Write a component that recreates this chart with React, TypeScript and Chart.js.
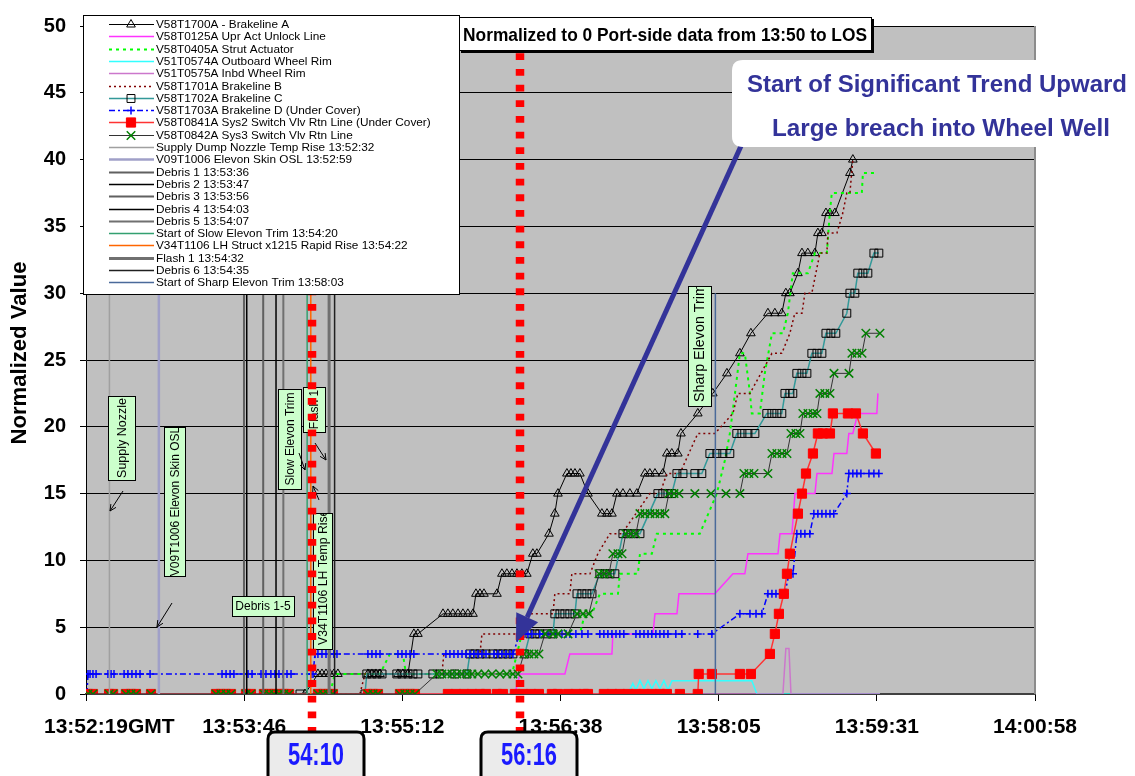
import React, { useEffect, useRef } from 'react';
import { Chart, registerables } from 'chart.js';

Chart.register(...registerables);

type Pt = [number, number];

const FONT = '"Liberation Sans", Arial, Helvetica, sans-serif';

// ---------- axes (x = seconds after 13:50:00 GMT, y = normalized value) ----------
const X_MIN = 139.2;
const X_MAX = 657.6;
const X_TICKS = [139.2, 225.6, 312, 398.4, 484.8, 571.2, 657.6];
const X_TICK_LABELS = ['13:52:19GMT', '13:53:46', '13:55:12', '13:56:38', '13:58:05', '13:59:31', '14:00:58'];
const Y_TICKS = [0, 5, 10, 15, 20, 25, 30, 35, 40, 45, 50];
const Y_TITLE = 'Normalized Value';

// ---------- sensor series ----------
const brakelineA: Pt[] = [[258.8,0],[265.9,1.5],[268.1,1.5],[270.3,1.5],[272.4,1.5],[274.6,1.5],[276.8,1.5],[293.2,1.5],[295.4,1.5],[297.6,1.5],[299.8,1.5],[309.6,1.5],[312.3,1.5],[315.1,1.5],[318.3,4.5],[320.5,4.5],[334.2,6],[336.9,6],[339.6,6],[342.4,6],[345.1,6],[347.8,6],[350.6,6],[352.2,7.5],[354.4,7.5],[356.6,7.5],[363.7,7.5],[366.4,9],[369.1,9],[371.9,9],[374.6,9],[377.3,9],[380.0,9],[383.3,10.5],[385.5,10.5],[392.1,12],[395.3,13.5],[397.0,15],[401.9,16.5],[404.1,16.5],[406.3,16.5],[409.0,16.5],[413.4,15],[421.0,13.5],[423.8,13.5],[426.5,13.5],[429.2,15],[432.5,15],[436.3,15],[440.1,15],[444.5,16.5],[447.2,16.5],[450.0,16.5],[454.3,16.5],[456.5,18],[459.2,18],[462.5,18],[464.2,19.5],[473.4,21],[481.6,22.5],[489.3,24],[496.4,25.5],[502.4,27],[511.7,28.5],[515.5,28.5],[519.3,28.5],[521.5,30],[523.7,30],[528.1,31.5],[530.3,33],[533.5,33],[537.4,33],[539.0,34.5],[541.2,34.5],[543.4,36],[545.5,36],[548.3,36],[556.5,39],[558.1,40]];

const uprActUnlock: Pt[] = [[139.2,0],[373.5,0],[376.2,1.5],[400.8,1.5],[403.5,3],[426.5,3],[427.0,4.5],[448.9,4.5],[450.0,6],[462.0,6],[463.1,7.5],[482.7,7.5],[492.6,9],[499.1,9],[500.8,10.5],[517.2,10.5],[518.3,12],[524.8,12],[526.5,15],[537.4,15],[538.5,16.5],[546.7,16.5],[547.8,18],[554.8,18],[555.9,19.5],[558.1,19.5],[560.8,21],[571.2,21],[571.8,22.5]];

const strutActuator: Pt[] = [[139.2,0],[272.4,0],[275.2,1.5],[299.8,1.5],[305.2,3],[312.3,3],[314.0,1.5],[371.9,1.5],[377.3,4.5],[409.0,4.5],[411.7,6],[415.6,6],[419.9,7.5],[429.8,7.5],[430.8,9],[440.7,9],[441.8,10.5],[448.3,10.5],[451.0,12],[474.5,12],[483.8,15],[488.2,17.5],[490.9,19.5],[493.7,22.5],[496.4,25.5],[499.1,25.5],[501.9,22.5],[502.9,21],[507.3,21],[510.0,24],[513.9,27],[519.9,27],[522.6,28.5],[525.3,31.5],[533.5,31.5],[537.4,33],[543.9,33],[545.5,36],[546.6,37.5],[563.0,37.5],[563.6,39],[571.2,39]];

const outboardRim: Pt[] = [[139.2,0],[435.2,0],[437.9,0.8],[439.6,0.3],[441.8,1],[444.0,0.4],[446.2,1],[448.3,0.4],[450.5,1],[452.7,0.4],[454.9,1],[457.1,0.3],[459.3,1],[502.9,1],[505.7,0],[572.9,0]];

const inbdRim: Pt[] = [[139.2,0],[519.9,0],[521.5,3.4],[523.2,3.4],[524.3,0],[572.9,0]];

const brakelineB: Pt[] = [[256.1,0],[288.8,0],[291.6,1.5],[333.6,1.5],[334.7,3],[354.4,3],[355.5,4.5],[371.9,4.5],[376.2,4.5],[381.7,6],[394.3,6],[395.3,7.5],[403.5,7.5],[404.6,9],[414.5,9],[418.8,10.5],[425.4,12],[431.9,12],[439.6,13.5],[447.2,15],[452.7,15],[456.5,16.5],[463.6,16.5],[473.4,19.5],[482.7,19.5],[492.6,21],[495.3,22.5],[501.9,22.5],[513.9,25.5],[519.3,25.5],[523.7,27],[526.4,28.5],[530.3,28.5],[531.9,30],[535.7,30],[540.1,33],[543.9,33],[544.5,34.5],[549.4,34.5],[552.6,36],[554.8,37.5],[556.5,37.5],[558.1,40]];

const brakelineC: Pt[] = [[256.1,0],[291.6,0],[292.6,1.5],[295.4,1.5],[298.1,1.5],[300.9,1.5],[309.0,1.5],[311.8,1.5],[315.1,1.5],[317.8,1.5],[320.5,1.5],[328.7,1.5],[332.5,1.5],[340.7,1.5],[347.3,1.5],[348.9,3],[351.6,3],[354.4,3],[357.7,3],[361.5,3],[364.2,3],[366.9,3],[369.7,3],[372.4,3],[378.9,3],[381.7,4.5],[384.4,4.5],[387.1,4.5],[391.0,4.5],[394.3,4.5],[395.3,6],[398.1,6],[400.8,6],[403.5,6],[406.3,6],[407.4,7.5],[410.1,7.5],[412.8,7.5],[415.6,7.5],[419.9,9],[422.7,9],[425.4,9],[428.1,9],[432.5,12],[435.2,12],[438.5,12],[441.8,12],[451.6,15],[454.3,15],[457.1,15],[459.2,15],[462.0,16.5],[465.3,16.5],[471.8,16.5],[475.6,16.5],[480.0,18],[483.8,18],[487.1,18],[490.9,18],[494.7,19.5],[497.5,19.5],[500.8,19.5],[504.6,19.5],[511.1,21],[513.9,21],[516.6,21],[519.3,21],[521.0,22.5],[523.7,22.5],[525.3,22.5],[527.5,24],[530.3,24],[533.0,24],[535.7,25.5],[538.5,25.5],[541.2,25.5],[543.4,27],[546.1,27],[548.8,27],[554.8,28.5],[556.5,30],[559.2,30],[560.8,31.5],[563.6,31.5],[566.3,31.5],[569.6,33],[572.3,33]];

const brakelineD: Pt[] = [[139.7,0],[140.3,1.5],[141.4,1.5],[143.0,1.5],[144.7,1.5],[151.2,1.5],[152.9,1.5],[154.5,1.5],[160.0,1.5],[162.1,1.5],[164.3,1.5],[166.5,1.5],[168.7,1.5],[174.2,1.5],[213.5,1.5],[215.7,1.5],[217.9,1.5],[220.0,1.5],[225.5,1.5],[227.7,1.5],[229.9,1.5],[234.8,1.5],[237.5,1.5],[240.2,1.5],[242.4,1.5],[244.6,1.5],[246.8,1.5],[249.0,1.5],[251.2,1.5],[262.1,1.5],[263.2,1.5],[264.3,3],[265.9,3],[268.1,3],[270.3,3],[272.4,3],[274.6,3],[276.3,3],[293.2,3],[295.4,3],[297.6,3],[299.8,3],[309.6,3],[311.8,3],[314.0,3],[316.2,3],[318.3,3],[335.8,3],[338.0,3],[340.2,3],[342.4,3],[344.6,3],[346.8,3],[348.9,3],[351.1,3],[353.3,3],[355.5,3],[357.7,3],[362.1,3],[364.2,3],[366.4,3],[368.6,3],[370.8,3],[372.4,3],[376.2,4.5],[378.4,4.5],[380.6,4.5],[382.8,4.5],[387.1,4.5],[391.5,4.5],[395.9,4.5],[399.2,4.5],[401.4,4.5],[403.5,4.5],[406.8,4.5],[410.1,4.5],[413.4,4.5],[419.9,4.5],[422.1,4.5],[424.3,4.5],[426.5,4.5],[428.7,4.5],[430.8,4.5],[433.0,4.5],[439.6,4.5],[441.8,4.5],[444.0,4.5],[446.2,4.5],[448.3,4.5],[450.5,4.5],[452.7,4.5],[454.9,4.5],[457.1,4.5],[461.4,4.5],[464.7,4.5],[473.4,4.5],[481.1,4.5],[496.4,6],[501.9,6],[505.2,6],[508.4,6],[511.7,7.5],[513.9,7.5],[516.1,7.5],[518.3,7.5],[521.0,7.5],[523.2,9],[525.4,9],[527.5,12],[529.7,12],[531.9,12],[534.6,12],[536.8,13.5],[539.0,13.5],[541.2,13.5],[543.4,13.5],[545.6,13.5],[547.7,13.5],[554.8,15],[555.9,16.5],[558.1,16.5],[560.3,16.5],[562.5,16.5],[566.9,16.5],[569.6,16.5],[572.3,16.5]];

const sys2Return: Pt[] = [[140.3,0],[143.0,0],[151.8,0],[154.0,0],[161.0,0],[163.8,0],[166.5,0],[174.7,0],[210.2,0],[212.9,0],[215.7,0],[218.4,0],[226.6,0],[229.3,0],[236.4,0],[239.2,0],[241.9,0],[244.6,0],[247.3,0],[250.1,0],[265.9,0],[268.7,0],[271.4,0],[274.1,0],[293.2,0],[296.0,0],[298.7,0],[310.7,0],[313.4,0],[316.2,0],[318.9,0],[336.9,0],[341.3,0],[345.7,0],[350.0,0],[354.4,0],[357.7,0],[363.7,0],[366.9,0],[373.5,0],[377.9,0],[382.3,0],[386.6,0],[393.7,0],[397.0,0],[402.5,0],[406.8,0],[411.2,0],[413.4,0],[422.1,0],[426.5,0],[430.8,0],[435.2,0],[439.6,0],[444.0,0],[448.3,0],[452.7,0],[456.5,0],[463.6,0],[473.4,0],[473.9,1.5],[481.1,1.5],[496.4,1.5],[502.4,1.5],[512.8,3],[515.5,4.5],[517.7,6],[520.4,7.5],[522.1,9],[523.7,10.5],[528.1,13.5],[530.3,15],[532.5,16.5],[536.3,18],[539.0,19.5],[541.7,19.5],[545.6,19.5],[547.2,21],[555.4,21],[559.8,21],[563.6,19.5],[570.7,18]];

const sys3Return: Pt[] = [[140.3,0],[143.0,0],[151.8,0],[154.0,0],[161.0,0],[163.8,0],[166.5,0],[174.7,0],[210.2,0],[212.9,0],[215.7,0],[218.4,0],[226.6,0],[229.3,0],[236.4,0],[239.2,0],[241.9,0],[244.6,0],[247.3,0],[250.1,0],[265.9,0],[268.7,0],[271.4,0],[274.1,0],[293.2,0],[296.0,0],[298.7,0],[310.7,0],[313.4,0],[316.2,0],[318.9,0],[330.9,1.5],[333.6,1.5],[336.4,1.5],[339.1,1.5],[341.8,1.5],[344.6,1.5],[347.3,1.5],[350.0,1.5],[353.3,1.5],[357.1,1.5],[361.0,1.5],[365.3,1.5],[369.1,1.5],[372.4,1.5],[375.2,1.5],[378.4,3],[381.2,3],[383.9,3],[386.6,3],[389.9,4.5],[394.3,4.5],[397.0,4.5],[402.5,4.5],[407.4,6],[410.7,6],[413.9,6],[419.4,9],[422.1,9],[424.9,9],[427.0,10.5],[429.8,10.5],[432.0,10.5],[434.1,12],[436.9,12],[439.6,12],[441.8,13.5],[444.5,13.5],[447.3,13.5],[450.0,13.5],[452.7,13.5],[455.4,13.5],[457.6,15],[460.4,15],[463.1,15],[471.8,15],[480.6,15],[488.8,15],[496.4,15],[498.6,16.5],[501.3,16.5],[504.1,16.5],[511.7,16.5],[513.9,18],[516.6,18],[519.4,18],[522.1,18],[524.3,19.5],[527.0,19.5],[529.2,19.5],[530.8,21],[533.6,21],[536.3,21],[538.5,21],[540.1,22.5],[542.8,22.5],[545.6,22.5],[547.8,24],[556.0,24],[557.6,25.5],[560.3,25.5],[563.1,25.5],[565.2,27],[572.9,27]];

// ---------- event markers (vertical lines) ----------
const EVENT_LABELS = ['Supply Dump Nozzle Temp Rise 13:52:32', 'V09T1006 Elevon Skin OSL 13:52:59', 'Debris 1 13:53:36', 'Debris 2 13:53:47', 'Debris 3 13:53:56', 'Debris 4 13:54:03', 'Debris 5 13:54:07', 'Start of Slow Elevon Trim 13:54:20', 'V34T1106 LH Struct x1215 Rapid Rise 13:54:22', 'Flash 1 13:54:32', 'Debris 6 13:54:35', 'Start of Sharp Elevon Trim 13:58:03'];
const EVENT_TIMES = [152, 179, 225.5, 227, 236, 243, 247, 260, 262, 272, 275, 483];
const EVENT_HEIGHT = 30;

const MARK_TIMES = [262.6, 376.3];
const MARK_LABELS = ['54:10', '56:16'];
const TITLE_TEXT = 'Normalized to 0 Port-side data from 13:50 to LOS';
const CALLOUT_LINES = ['Start of Significant Trend Upward', 'Large breach into Wheel Well'];
const TREND_START: Pt = [374.1, 3.9];

// ---------- styles ----------
type Marker = 'triangle' | 'rect' | 'cross' | 'crossRot' | undefined;
interface Sty { label: string; data: Pt[]; color: string; width: number; dash?: number[]; marker?: Marker; r?: number; fill?: string; stroke?: string; mw?: number; }

const SENSOR_SERIES: Sty[] = [
  { label: 'V58T1700A - Brakeline A', data: brakelineA, color: '#000000', width: 1, marker: 'triangle', r: 5, fill: 'rgba(0,0,0,0)', stroke: '#000000', mw: 1 },
  { label: 'V58T0125A Upr Act Unlock Line', data: uprActUnlock, color: '#ff33ff', width: 1.5 },
  { label: 'V58T0405A Strut Actuator', data: strutActuator, color: '#00ff00', width: 2, dash: [3, 4] },
  { label: 'V51T0574A Outboard Wheel Rim', data: outboardRim, color: '#33ffff', width: 1.5 },
  { label: 'V51T0575A Inbd Wheel Rim', data: inbdRim, color: '#cc77cc', width: 1.5 },
  { label: 'V58T1701A Brakeline B', data: brakelineB, color: '#800000', width: 1.5, dash: [2, 3] },
  { label: 'V58T1702A Brakeline C', data: brakelineC, color: '#339999', width: 1.5, marker: 'rect', r: 5.6, fill: 'rgba(0,0,0,0)', stroke: '#000000', mw: 1 },
  { label: 'V58T1703A Brakeline D (Under Cover)', data: brakelineD, color: '#0000ff', width: 1.5, dash: [6, 3, 2, 3], marker: 'cross', r: 4, fill: '#0000ff', stroke: '#0000ff', mw: 1.5 },
  { label: 'V58T0841A Sys2 Switch Vlv Rtn Line (Under Cover)', data: sys2Return, color: '#ff3333', width: 1.5, marker: 'rect', r: 6.5, fill: '#ff0000', stroke: '#ff0000', mw: 1 },
  { label: 'V58T0842A Sys3 Switch Vlv Rtn Line', data: sys3Return, color: '#333333', width: 1, marker: 'crossRot', r: 6, fill: '#008000', stroke: '#008000', mw: 1.5 },
];

const EVENT_COLORS = ['#a0a0a0', '#a0a0c8', '#606060', '#000000', '#606060', '#000000', '#707070', '#33a070', '#ff6600', '#707070', '#202020', '#4a6a9a'];
const EVENT_WIDTHS = [1.5, 2.5, 2, 1.5, 2, 1.5, 2, 1.5, 1.5, 3, 1.5, 1.5];

const ALL_SERIES: Sty[] = [
  ...SENSOR_SERIES,
  ...EVENT_LABELS.map((label, i) => ({ label, data: [[EVENT_TIMES[i], 0], [EVENT_TIMES[i], EVENT_HEIGHT]] as Pt[], color: EVENT_COLORS[i], width: EVENT_WIDTHS[i] })),
];

// ---------- drawing helpers ----------
function fitText(ctx: CanvasRenderingContext2D, text: string, x: number, y: number, font: string, color: string, width?: number, align: CanvasTextAlign = 'center') {
  ctx.save();
  ctx.font = font;
  ctx.fillStyle = color;
  ctx.textBaseline = 'alphabetic';
  const w = ctx.measureText(text).width;
  const sx = width ? width / w : 1;
  ctx.translate(x, y);
  ctx.scale(sx, 1);
  ctx.textAlign = align;
  ctx.fillText(text, 0, 0);
  ctx.restore();
}

function rr(ctx: CanvasRenderingContext2D, x: number, y: number, w: number, h: number, r: number) {
  ctx.beginPath();
  ctx.moveTo(x + r, y);
  ctx.lineTo(x + w - r, y);
  ctx.quadraticCurveTo(x + w, y, x + w, y + r);
  ctx.lineTo(x + w, y + h - r);
  ctx.quadraticCurveTo(x + w, y + h, x + w - r, y + h);
  ctx.lineTo(x + r, y + h);
  ctx.quadraticCurveTo(x, y + h, x, y + h - r);
  ctx.lineTo(x, y + r);
  ctx.quadraticCurveTo(x, y, x + r, y);
  ctx.closePath();
}

function drawMarker(ctx: CanvasRenderingContext2D, s: Sty, x: number, y: number) {
  if (!s.marker) return;
  const r = s.r || 4;
  ctx.save();
  ctx.setLineDash([]);
  ctx.lineWidth = s.mw || 1;
  ctx.strokeStyle = s.stroke || s.color;
  ctx.fillStyle = s.fill || s.color;
  ctx.beginPath();
  if (s.marker === 'triangle') {
    ctx.moveTo(x, y - r);
    ctx.lineTo(x + r * 0.866, y + r / 2);
    ctx.lineTo(x - r * 0.866, y + r / 2);
    ctx.closePath();
    ctx.fill();
    ctx.stroke();
  } else if (s.marker === 'rect') {
    const h = r * Math.SQRT1_2;
    ctx.rect(x - h, y - h, 2 * h, 2 * h);
    ctx.fill();
    ctx.stroke();
  } else if (s.marker === 'cross') {
    ctx.moveTo(x - r, y); ctx.lineTo(x + r, y);
    ctx.moveTo(x, y - r); ctx.lineTo(x, y + r);
    ctx.stroke();
  } else {
    const d = r * Math.SQRT1_2;
    ctx.moveTo(x - d, y - d); ctx.lineTo(x + d, y + d);
    ctx.moveTo(x + d, y - d); ctx.lineTo(x - d, y + d);
    ctx.stroke();
  }
  ctx.restore();
}

function thinArrow(ctx: CanvasRenderingContext2D, x1: number, y1: number, x2: number, y2: number) {
  const a = Math.atan2(y2 - y1, x2 - x1);
  const h = 7;
  ctx.save();
  ctx.strokeStyle = '#000';
  ctx.lineWidth = 1;
  ctx.beginPath();
  ctx.moveTo(x1, y1); ctx.lineTo(x2, y2);
  ctx.moveTo(x2 - h * Math.cos(a - 0.45), y2 - h * Math.sin(a - 0.45));
  ctx.lineTo(x2, y2);
  ctx.lineTo(x2 - h * Math.cos(a + 0.45), y2 - h * Math.sin(a + 0.45));
  ctx.stroke();
  ctx.restore();
}

// text boxes on the plot
const NOTE_BOXES = [
  { text: 'Supply Nozzle', x: 108, y: 396, w: 27, h: 84, rot: true, size: 12.5, start: false },
  { text: 'V09T1006 Elevon Skin OSL', x: 164, y: 427, w: 21, h: 149, rot: true, size: 12, start: false },
  { text: 'Debris 1-5', x: 232, y: 596, w: 62, h: 20, rot: false, size: 12, start: false },
  { text: 'Slow Elevon Trim', x: 278, y: 389, w: 23, h: 100, rot: true, size: 12, start: false },
  { text: 'Flash 1', x: 303, y: 387, w: 22, h: 45, rot: true, size: 12, start: false },
  { text: 'V34T1106 LH Temp Rise', x: 313, y: 513, w: 19, h: 136, rot: true, size: 12.2, start: true },
  { text: 'Sharp Elevon Trim', x: 688, y: 286, w: 23, h: 120, rot: true, size: 14.3, start: true },
];
const NOTE_ARROWS = [[123, 491, 110, 511], [172, 603, 157, 627], [299, 453, 305, 470], [315, 443, 326, 460], [319, 500, 313, 486]];

const decorPlugin = {
  id: 'decor',
  beforeDraw(chart: any) {
    const { ctx, chartArea: a } = chart;
    ctx.save();
    ctx.fillStyle = '#ffffff';
    ctx.fillRect(0, 0, chart.width, chart.height);
    ctx.fillStyle = '#c0c0c0';
    ctx.fillRect(a.left, a.top, a.right - a.left, a.bottom - a.top);
    ctx.restore();
  },
  afterDraw(chart: any) {
    const ctx: CanvasRenderingContext2D = chart.ctx;
    const a = chart.chartArea;
    const xs = chart.scales.x;
    const ys = chart.scales.y;

    // right plot border
    ctx.save();
    ctx.strokeStyle = '#8c8c8c';
    ctx.lineWidth = 2;
    ctx.beginPath(); ctx.moveTo(a.right, a.top); ctx.lineTo(a.right, a.bottom); ctx.stroke();
    ctx.restore();

    // annotation boxes
    NOTE_BOXES.forEach((b) => {
      ctx.save();
      ctx.fillStyle = '#ccffcc';
      ctx.strokeStyle = '#000';
      ctx.lineWidth = 1;
      ctx.fillRect(b.x, b.y, b.w, b.h);
      ctx.strokeRect(b.x + 0.5, b.y + 0.5, b.w, b.h);
      ctx.beginPath(); ctx.rect(b.x + 1, b.y + 1, b.w - 1, b.h - 1); ctx.clip();
      ctx.fillStyle = '#000';
      ctx.font = `${b.size}px ${FONT}`;
      ctx.textBaseline = 'middle';
      if (b.rot) {
        ctx.translate(b.x + b.w / 2 + 1, b.start ? b.y + b.h - 4 : b.y + b.h / 2);
        ctx.rotate(-Math.PI / 2);
        ctx.textAlign = b.start ? 'left' : 'center';
        ctx.fillText(b.text, 0, 0);
      } else {
        ctx.textAlign = 'center';
        ctx.fillText(b.text, b.x + b.w / 2, b.y + b.h / 2 + 1);
      }
      ctx.restore();
    });
    NOTE_ARROWS.forEach(([x1, y1, x2, y2]) => thinArrow(ctx, x1, y1, x2, y2));

    // red dotted reference lines
    const markBottoms = [731, 733];
    MARK_TIMES.forEach((t, i) => {
      const x = Math.round(xs.getPixelForValue(t));
      ctx.save();
      ctx.strokeStyle = '#ff0000';
      ctx.lineWidth = 8.5;
      ctx.setLineDash([6.8, 8.87]);
      ctx.beginPath(); ctx.moveTo(x, 53.3); ctx.lineTo(x, markBottoms[i]); ctx.stroke();
      ctx.restore();
    });

    // legend
    const L = { x: 83, y: 15, w: 376, h: 279, x0: 109, x1: 154, mx: 131, tx: 156, row0: 24, rowH: 12.3 };
    ctx.save();
    ctx.fillStyle = '#ffffff';
    ctx.fillRect(L.x, L.y, L.w, L.h);
    ctx.strokeStyle = '#000';
    ctx.lineWidth = 1;
    ctx.strokeRect(L.x + 0.5, L.y + 0.5, L.w, L.h);
    ALL_SERIES.forEach((s, i) => {
      const y = Math.round(L.row0 + i * L.rowH) + 0.5;
      ctx.save();
      ctx.strokeStyle = s.color;
      ctx.lineWidth = s.width;
      ctx.setLineDash(s.dash || []);
      ctx.beginPath(); ctx.moveTo(L.x0, y); ctx.lineTo(L.x1, y); ctx.stroke();
      ctx.restore();
      drawMarker(ctx, s, L.mx, y);
      ctx.fillStyle = '#000';
      ctx.font = `11.8px ${FONT}`;
      ctx.textAlign = 'left';
      ctx.textBaseline = 'middle';
      ctx.fillText(s.label, L.tx, y);
    });
    ctx.restore();

    // title box
    ctx.save();
    ctx.fillStyle = '#000';
    ctx.fillRect(461, 19, 413, 34);
    ctx.fillStyle = '#fff';
    ctx.fillRect(459, 17, 413, 34);
    ctx.strokeStyle = '#000';
    ctx.lineWidth = 1;
    ctx.strokeRect(459.5, 17.5, 412, 33);
    ctx.restore();
    fitText(ctx, TITLE_TEXT, 665, 41, `bold 18.5px ${FONT}`, '#000', 404);

    // big arrow to start of trend
    const tipX = xs.getPixelForValue(TREND_START[0]);
    const tipY = ys.getPixelForValue(TREND_START[1]);
    const tailX = 741, tailY = 146;
    const ang = Math.atan2(tipY - tailY, tipX - tailX);
    const hl = 27, hw = 12;
    const bx = tipX - hl * Math.cos(ang), by = tipY - hl * Math.sin(ang);
    ctx.save();
    ctx.strokeStyle = '#333399';
    ctx.fillStyle = '#333399';
    ctx.lineWidth = 5;
    ctx.beginPath(); ctx.moveTo(tailX, tailY); ctx.lineTo(bx, by); ctx.stroke();
    ctx.beginPath();
    ctx.moveTo(tipX, tipY);
    ctx.lineTo(bx + hw * Math.sin(ang), by - hw * Math.cos(ang));
    ctx.lineTo(bx - hw * Math.sin(ang), by + hw * Math.cos(ang));
    ctx.closePath();
    ctx.fill();
    ctx.restore();

    // callout
    ctx.save();
    ctx.fillStyle = '#ffffff';
    rr(ctx, 732, 60, 440, 87, 11);
    ctx.fill();
    ctx.restore();
    fitText(ctx, CALLOUT_LINES[0], 937, 92, `bold 23.5px ${FONT}`, '#333399', 380);
    fitText(ctx, CALLOUT_LINES[1], 941, 136, `bold 23.5px ${FONT}`, '#333399', 338);

    // bottom time boxes
    const boxL = [268, 481];
    MARK_LABELS.forEach((lab, i) => {
      ctx.save();
      rr(ctx, boxL[i], 732, 96, 52, 7);
      ctx.fillStyle = '#ebebeb';
      ctx.fill();
      ctx.strokeStyle = '#000';
      ctx.lineWidth = 3;
      ctx.stroke();
      ctx.restore();
      fitText(ctx, lab, boxL[i] + 48, 765, `bold 31px ${FONT}`, '#1a1aff', 56);
    });

    // x tick labels
    ctx.save();
    ctx.fillStyle = '#000';
    ctx.font = `bold 21px ${FONT}`;
    ctx.textBaseline = 'alphabetic';
    X_TICKS.forEach((v, i) => {
      const x = xs.getPixelForValue(v);
      const lab = X_TICK_LABELS[i];
      if (i === 0) {
        const core = ctx.measureText(lab.slice(0, 8)).width;
        ctx.textAlign = 'left';
        ctx.fillText(lab, x - core / 2, 733);
      } else {
        ctx.textAlign = 'center';
        ctx.fillText(lab, x, 733);
      }
    });
    ctx.restore();

    // y title
    ctx.save();
    ctx.translate(26, 353);
    ctx.rotate(-Math.PI / 2);
    fitText(ctx, Y_TITLE, 0, 0, `bold 22px ${FONT}`, '#000', 183);
    ctx.restore();
  },
};

export default function App() {
  const ref = useRef<HTMLCanvasElement>(null);
  useEffect(() => {
    const canvas = ref.current;
    if (!canvas) return;
    const datasets = ALL_SERIES.map((s, i) => ({
      label: s.label,
      data: s.data.map(([x, y]) => ({ x, y })),
      borderColor: s.color,
      backgroundColor: s.color,
      borderWidth: s.width,
      borderDash: s.dash || [],
      pointStyle: s.marker || 'circle',
      pointRadius: s.marker ? s.r : 0,
      pointHoverRadius: s.marker ? s.r : 0,
      pointBackgroundColor: s.fill || s.color,
      pointBorderColor: s.stroke || s.color,
      pointBorderWidth: s.mw || 1,
      fill: false,
      tension: 0,
      order: -i,
    }));
    const chart = new Chart(canvas, {
      type: 'line',
      data: { datasets },
      options: {
        responsive: false,
        devicePixelRatio: 1,
        animation: false,
        events: [],
        layout: { padding: { left: 0, right: 100, top: 15, bottom: 0 }, autoPadding: false },
        plugins: { legend: { display: false }, tooltip: { enabled: false }, title: { display: false } },
        scales: {
          x: {
            type: 'linear',
            min: X_MIN,
            max: X_MAX,
            afterBuildTicks: (s: any) => { s.ticks = X_TICKS.map((v) => ({ value: v })); },
            afterFit: (s: any) => { s.height = 82; },
            ticks: { display: false },
            grid: { display: true, drawOnChartArea: false, drawTicks: true, tickLength: 7, color: '#000', lineWidth: 1 },
            border: { display: true, color: '#404040', width: 2 },
          },
          y: {
            type: 'linear',
            min: 0,
            max: 50,
            afterBuildTicks: (s: any) => { s.ticks = Y_TICKS.map((v) => ({ value: v })); },
            afterFit: (s: any) => { s.width = 86; },
            ticks: { font: { family: FONT, size: 20, weight: 'bold' }, color: '#000', padding: 14 },
            grid: { color: '#000', lineWidth: 1, tickLength: 6, drawTicks: true },
            border: { display: true, color: '#000', width: 1 },
          },
        },
      } as any,
      plugins: [decorPlugin],
    });
    return () => chart.destroy();
  }, []);
  return (
    <div style={{ position: 'fixed', left: 0, top: 0, width: 1135, height: 776, background: '#fff' }}>
      <canvas ref={ref} width={1135} height={776} style={{ display: 'block' }} />
    </div>
  );
}
